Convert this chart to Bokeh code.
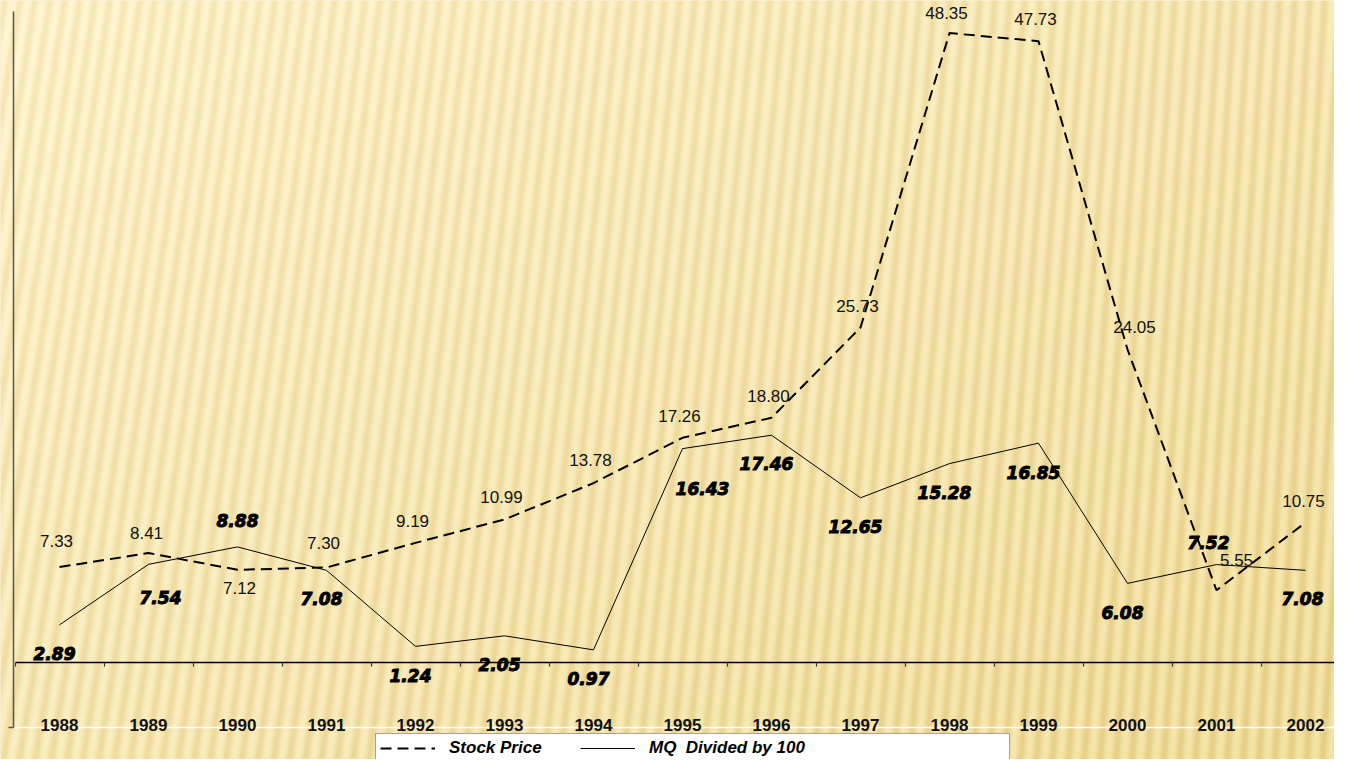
import numpy as np
from bokeh.plotting import figure
from bokeh.models import (ColumnDataSource, Range1d, FixedTicker, LinearAxis,
                          Legend, LegendItem)
from bokeh.core.properties import value
from bokeh.embed import file_html
from bokeh.resources import INLINE

# ---------------- data ----------------
years = ["1988", "1989", "1990", "1991", "1992", "1993", "1994", "1995",
         "1996", "1997", "1998", "1999", "2000", "2001", "2002"]
stock_price = [7.33, 8.41, 7.12, 7.30, 9.19, 10.99, 13.78, 17.26,
               18.80, 25.73, 48.35, 47.73, 24.05, 5.55, 10.75]
mq_div_100 = [2.89, 7.54, 8.88, 7.08, 1.24, 2.05, 0.97, 16.43,
              17.46, 12.65, 15.28, 16.85, 6.08, 7.52, 7.08]

# label placement (screen px offsets from each point)
price_dx = [-3, -2, 2, -3, -3, -3, -3, -3, -3, -3, -3, -3, 7, 20, -2]
price_dy = [-26, -20, 18, -24, -22, -22, -23, -22, -22, -22, -20, -22, -22, -30, -22]
mq_dx = [-5, 12, 0, -5, -5, -5, -5, 20, -5, -5, -5, -5, -5, -8, -3]
mq_dy = [29, 33, -26, 28, 29, 29, 29, 40, 28, 29, 29, 29, 29, -22, 28]

# value axis of the original chart
axis_min, axis_max = -5, 50

# ---------------- figure ----------------
W, H = 1334, 759
PX_PER_CAT = 89.0
PX_PER_UNIT = 13.018
X0 = -59 / PX_PER_CAT
X1 = X0 + W / PX_PER_CAT
Y1 = 662 / PX_PER_UNIT
Y0 = Y1 - H / PX_PER_UNIT

p = figure(width=W, height=H, output_backend="svg", toolbar_location=None,
           x_range=Range1d(X0, X1), y_range=Range1d(Y0, Y1),
           min_border=0, x_axis_location=None, y_axis_location=None)
p.grid.visible = False
p.outline_line_color = None
p.border_fill_color = "#F3E2AC"
p.background_fill_color = "#F6E6B2"

# striped paper-like background texture
py = np.arange(H, dtype=float)[:, None]
px = np.arange(W, dtype=float)[None, :]
k = 0.16 - 0.10 * (px / 1350.0)
phase = (px + k * py) / 15.0
s = (0.5 + 0.5 * np.sin(2 * np.pi * phase)) ** 1.3
t = np.clip(0.55 * px / 1350.0 + 0.45 * py / 775.0, 0, 1)
L0, L1 = np.array([255, 246, 212]), np.array([245, 228, 166])
D0, D1 = np.array([247, 232, 182]), np.array([229, 204, 130])
Lc = L0[None, None, :] * (1 - t[..., None]) + L1[None, None, :] * t[..., None]
Dc = D0[None, None, :] * (1 - t[..., None]) + D1[None, None, :] * t[..., None]
rgb = Lc * (1 - s[..., None]) + Dc * s[..., None]
img = np.empty((H, W), dtype=np.uint32)
view = img.view(dtype=np.uint8).reshape((H, W, 4))
for c in range(3):
    view[..., c] = rgb[..., c].astype(np.uint8)
view[..., 3] = 255
p.image_rgba(image=[img[::-1]], x=X0, y=Y0, dw=X1 - X0, dh=Y1 - Y0)

# value axis (left line only, with one tick at its bottom)
yax = LinearAxis(fixed_location=X0 + 13 / PX_PER_CAT, bounds=(axis_min, axis_max),
                 ticker=FixedTicker(ticks=[axis_min]),
                 major_label_overrides={axis_min: ""},
                 major_label_standoff=0, major_tick_out=5, major_tick_in=0,
                 minor_tick_out=0, minor_tick_in=0,
                 axis_line_color="#555555", axis_line_width=1.5,
                 major_tick_line_color="#555555", major_tick_line_width=1.5)
p.add_layout(yax, "left")

# category axis (labels at the bottom of the plot area)
xax = LinearAxis(fixed_location=axis_min, bounds=(-0.5, X1),
                 ticker=FixedTicker(ticks=list(range(len(years)))),
                 major_label_overrides={i: y for i, y in enumerate(years)},
                 major_label_standoff=-9, major_tick_out=0, major_tick_in=0,
                 minor_tick_out=0, minor_tick_in=0,
                 axis_line_color="white", axis_line_width=1.5,
                 major_label_text_font="Liberation Sans",
                 major_label_text_font_style="bold",
                 major_label_text_font_size="17px",
                 major_label_text_color="#111111")
p.add_layout(xax, "below")

# zero line with tick marks between categories
bounds = [i - 0.5 for i in range(len(years) + 1)]
zax = LinearAxis(fixed_location=0, bounds=(-0.5, X1),
                 ticker=FixedTicker(ticks=bounds),
                 major_label_overrides={b: "" for b in bounds},
                 major_label_standoff=0, major_tick_out=4, major_tick_in=0,
                 minor_tick_out=0, minor_tick_in=0,
                 axis_line_color="black", axis_line_width=1.5,
                 major_tick_line_color="#333333", major_tick_line_width=1.2)
p.add_layout(zax, "below")

src = ColumnDataSource(dict(
    x=list(range(len(years))),
    price=stock_price, mq=mq_div_100,
    price_txt=[f"{v:.2f}" for v in stock_price],
    mq_txt=[f"{v:.2f}" for v in mq_div_100],
    pdx=price_dx, pdy=price_dy, mdx=mq_dx, mdy=mq_dy,
))

r_price = p.line("x", "price", source=src, line_color="black", line_width=2,
                 line_dash="11 6")
r_mq = p.line("x", "mq", source=src, line_color="black", line_width=1)

p.text(x="x", y="price", text="price_txt", source=src, x_offset="pdx", y_offset="pdy",
       text_align="center", text_baseline="middle",
       text_font=value("Liberation Sans"), text_font_size="17px", text_color="#111111")
p.text(x="x", y="mq", text="mq_txt", source=src, x_offset="mdx", y_offset="mdy",
       text_align="center", text_baseline="middle",
       text_font=value("DejaVu Sans"), text_font_style="bold italic",
       text_font_size="17px", text_color="black", text_outline_color="black")

r_blank = p.line(x=[0, 0], y=[0, 0], line_alpha=0)

legend = Legend(items=[LegendItem(label="Stock Price", renderers=[r_price]),
                       LegendItem(label="MQ  Divided by 100", renderers=[r_mq]),
                       LegendItem(label=" ", renderers=[r_blank])],
                orientation="horizontal", location=(375, -4),
                label_text_font="Liberation Sans", label_text_font_style="bold italic",
                label_text_font_size="17px", label_text_color="black",
                glyph_width=55, glyph_height=16, label_standoff=14, label_width=125,
                spacing=6, padding=4, margin=0,
                border_line_color="#444444", border_line_width=1,
                background_fill_color="white", background_fill_alpha=1)
p.add_layout(legend, "center")

open("out.html", "w").write(file_html(p, INLINE))
